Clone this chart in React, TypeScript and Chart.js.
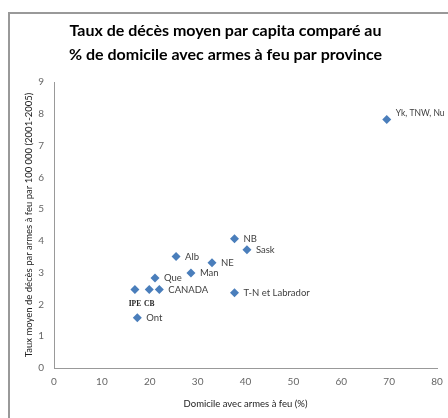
import React, { useEffect, useRef } from "react";
import { Chart, registerables } from "chart.js";

Chart.register(...registerables);

const provinces = ["Yk, TNW, Nu", "NB", "Sask", "NE", "Man", "Alb", "Que", "CANADA", "CB", "IPE", "Ont", "T-N et Labrador"];
const homesWithFirearms = [69.5, 37.7, 40.3, 33.0, 28.6, 25.5, 21.1, 22.0, 19.9, 16.9, 17.4, 37.7];
const deathRate = [7.82, 4.07, 3.72, 3.31, 2.99, 3.51, 2.83, 2.47, 2.47, 2.47, 1.58, 2.37];
const belowLabels = ["IPE", "CB"];
const xTicks = [0, 10, 20, 30, 40, 50, 60, 70, 80];
const yTicks = [0, 1, 2, 3, 4, 5, 6, 7, 8, 9];

const labelPlugin = {
  id: "pointLabels",
  afterDatasetsDraw(chart: any) {
    const ctx = chart.ctx;
    const meta = chart.getDatasetMeta(0);
    ctx.save();
    meta.data.forEach((el: any, i: number) => {
      const name = provinces[i];
      if (belowLabels.includes(name)) {
        ctx.font = "bold 7.5px 'Liberation Serif', serif";
        ctx.fillStyle = "#222";
        ctx.textAlign = "center";
        ctx.textBaseline = "middle";
        ctx.fillText(name, el.x, el.y + 15);
      } else {
        ctx.font = i === 0 ? "8.5px Lato, sans-serif" : "9.5px Lato, sans-serif";
        ctx.fillStyle = "#404040";
        ctx.textAlign = "left";
        ctx.textBaseline = "middle";
        const dy = i === 0 ? -6 : 0;
        ctx.fillText(name, el.x + 9, el.y + dy);
      }
    });
    ctx.restore();
  },
};

export default function App() {
  const ref = useRef<HTMLCanvasElement>(null);
  useEffect(() => {
    if (!ref.current) return;
    const chart = new Chart(ref.current, {
      type: "scatter",
      data: {
        datasets: [
          {
            data: homesWithFirearms.map((x, i) => ({ x, y: deathRate[i] })),
            pointStyle: "rectRot",
            pointRadius: 4.5,
            backgroundColor: "#4a7ebb",
            borderColor: "#4a7ebb",
            borderWidth: 0,
          },
        ],
      },
      options: {
        animation: false,
        responsive: false,
        layout: { padding: { left: 14, right: 11, top: 0, bottom: 0 } },
        plugins: {
          legend: { display: false },
          tooltip: { enabled: false },
          title: {
            display: true,
            text: ["Taux de décès moyen par capita comparé au", "% de domicile avec armes à feu par province"],
            font: { family: "Lato, 'Open Sans', sans-serif", size: 16, weight: "bold", lineHeight: 1.5 },
            color: "#000",
            padding: { top: 19, bottom: 15 },
          },
        },
        scales: {
          x: {
            type: "linear",
            min: 0,
            max: 80,
            afterBuildTicks: (s: any) => {
              s.ticks = xTicks.map((v) => ({ value: v }));
            },
            afterFit: (s: any) => {
              s.height = 50;
              s.paddingRight = 0;
              s.paddingLeft = 0;
            },
            grid: { display: false, drawTicks: false },
            border: { color: "#999", width: 1 },
            ticks: { color: "#666", font: { family: "Lato, sans-serif", size: 10 }, padding: 8 },
            title: {
              display: true,
              text: "Domicile avec armes à feu (%)",
              color: "#222",
              font: { family: "Lato, sans-serif", size: 9.5 },
              padding: { top: 6, bottom: 8 },
            },
          },
          y: {
            type: "linear",
            min: 0,
            max: 9,
            afterBuildTicks: (s: any) => {
              s.ticks = yTicks.map((v) => ({ value: v }));
            },
            afterFit: (s: any) => {
              s.width = 40;
            },
            grid: { display: false, drawTicks: false },
            border: { color: "#999", width: 1 },
            ticks: { color: "#666", font: { family: "Lato, sans-serif", size: 10 }, padding: 10 },
            title: {
              display: true,
              text: "Taux moyen de décès par armes à feu par 100 000 (2001-2005)",
              color: "#222",
              font: { family: "Lato, sans-serif", size: 9.5 },
              padding: { top: 9, bottom: 0 },
            },
          },
        },
      },
      plugins: [labelPlugin],
    });
    return () => chart.destroy();
  }, []);

  return (
    <div style={{ position: "fixed", left: 0, top: 0, width: 448, height: 418, background: "#fff", overflow: "hidden" }}>
      <div
        style={{
          position: "absolute",
          left: 8,
          top: 12,
          width: 460,
          height: 430,
          borderLeft: "2px solid #999",
          borderTop: "2px solid #999",
          boxSizing: "border-box",
        }}
      />
      <canvas ref={ref} width={448} height={418} style={{ position: "absolute", left: 0, top: 0 }} />
    </div>
  );
}
